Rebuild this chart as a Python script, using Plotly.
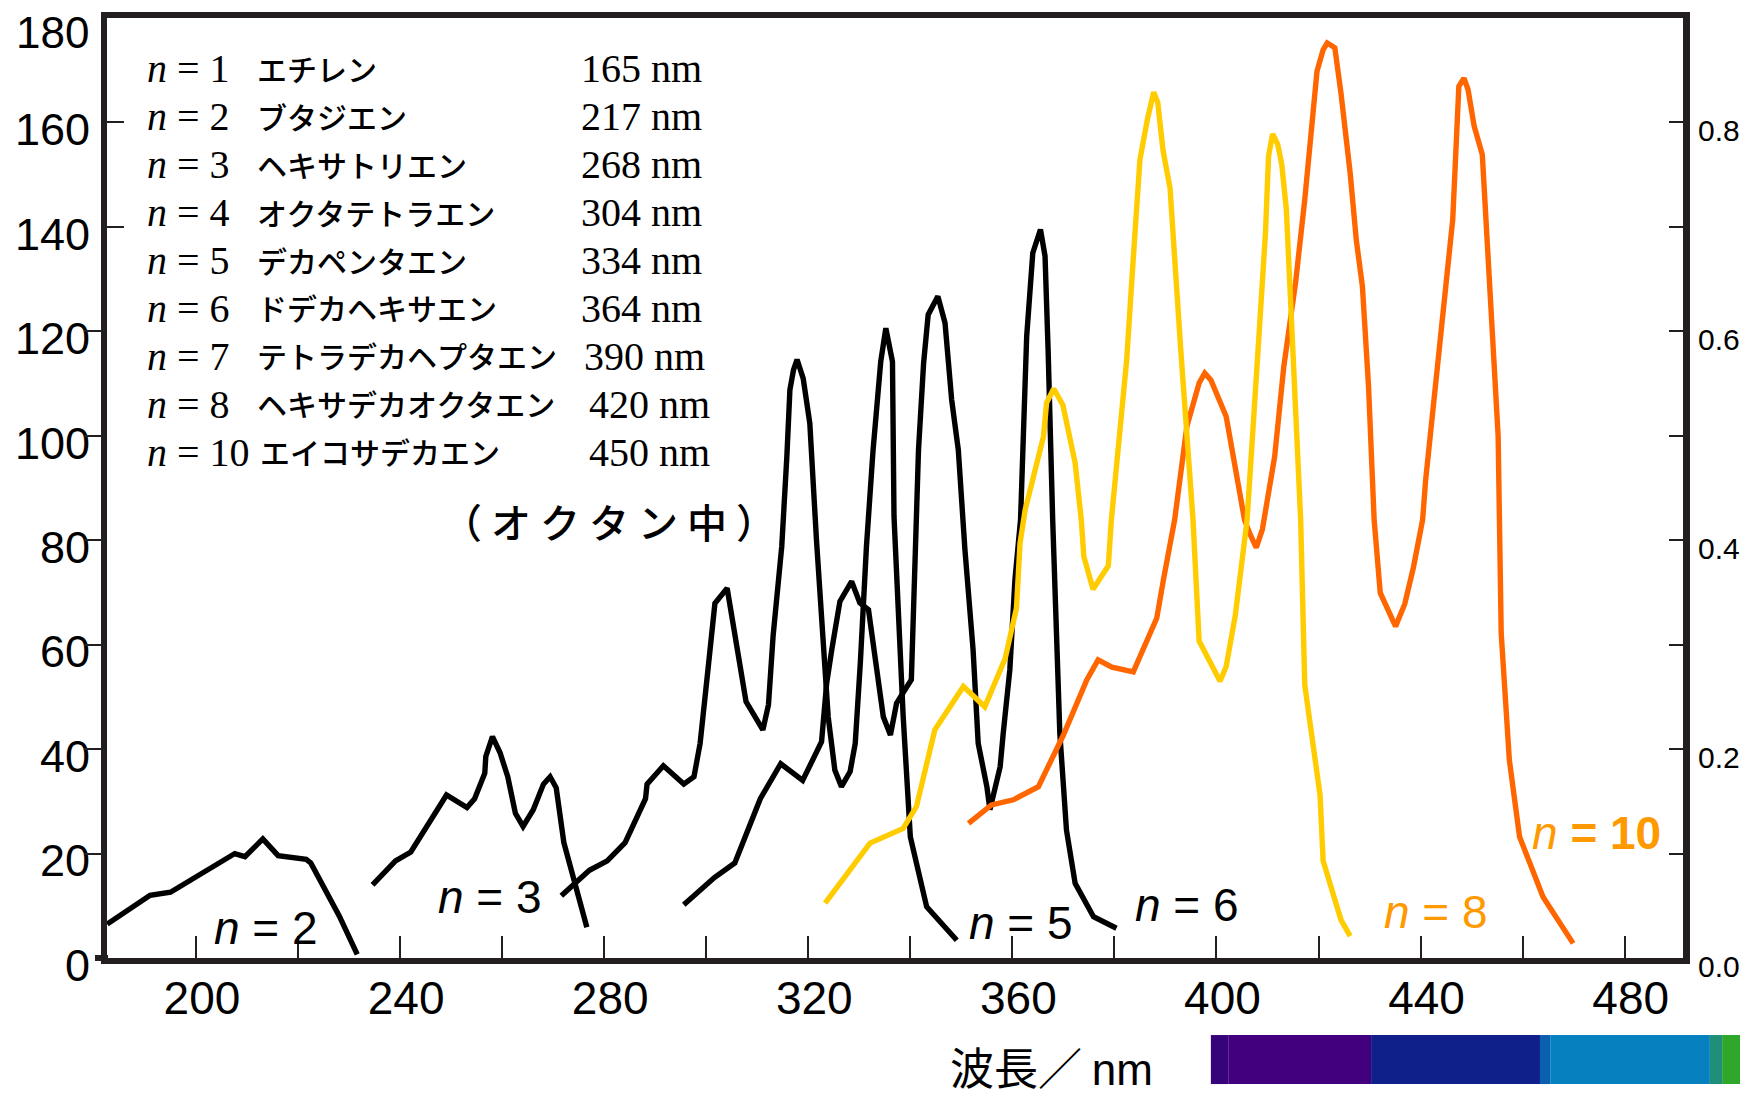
import plotly.graph_objects as go

# ---------------- data (wavelength nm, left-axis value) ----------------
n2_nm = [182.6, 191.0, 195.0, 203.6, 207.6, 209.6, 213.1, 216.1, 219.1, 221.6, 222.5, 228.1, 231.6]
n2_val = [6.5, 12.0, 12.6, 17.5, 20.0, 19.4, 22.8, 19.6, 19.3, 18.9, 18.2, 8.0, 0.7]

n3_nm = [234.6, 239.1, 242.1, 247.1, 249.1, 253.1, 254.6, 256.6, 256.8, 258.1, 259.6, 261.1,
         262.6, 264.1, 266.1, 268.1, 269.4, 270.6, 272.1, 276.6]
n3_val = [14.0, 18.6, 20.3, 28.4, 31.2, 28.8, 30.5, 35.4, 38.6, 42.4, 39.3, 34.7,
          27.7, 25.2, 28.4, 33.3, 34.7, 32.6, 22.1, 5.9]

n5_nm = [271.6, 277.1, 280.6, 284.1, 288.1, 288.4, 291.6, 295.6, 297.6, 298.8, 300.4, 301.7,
         304.1, 306.6, 307.8, 311.1, 312.2, 313.1, 314.8, 315.8, 316.4, 317.1, 317.8, 319.0,
         320.3, 321.6, 322.9, 323.9, 325.2, 326.5, 328.2, 329.2, 330.2, 331.4, 332.7, 333.9,
         334.2, 335.2, 336.5, 336.8, 337.7, 338.6, 340.0, 343.2, 349.1]
n5_val = [11.9, 16.8, 18.6, 22.1, 30.5, 33.3, 36.8, 33.3, 34.7, 41.1, 55.8, 67.9,
          70.8, 55.8, 49.1, 43.7, 48.5, 61.6, 78.8, 96.0, 108.8, 112.6, 114.6, 111.0,
          102.4, 80.1, 59.6, 46.2, 36.0, 32.8, 35.7, 41.1, 56.5, 78.8, 97.3, 108.8,
          114.2, 120.6, 114.2, 84.5, 65.4, 46.2, 23.2, 9.8, 3.4]

n6_nm = [295.6, 301.6, 305.6, 310.6, 314.6, 318.9, 322.6, 323.6, 324.6, 326.2, 328.5, 330.1,
         331.8, 333.4, 334.7, 336.1, 337.3, 340.2, 340.9, 341.6, 342.6, 343.5, 345.4, 346.8,
         348.1, 349.4, 350.7, 352.3, 353.3, 355.0, 355.6, 357.6, 358.2, 359.5, 360.5, 361.6,
         362.8, 363.4, 364.0, 365.5, 366.4, 367.0, 367.9, 369.3, 370.6, 372.3, 375.9, 380.4]
n6_val = [10.2, 15.4, 18.2, 30.5, 37.2, 34.0, 41.4, 52.6, 59.0, 68.3, 72.1, 68.0,
          66.7, 55.8, 46.2, 42.7, 48.8, 53.3, 78.2, 97.3, 113.9, 123.2, 126.7, 121.6,
          106.9, 97.3, 78.2, 59.0, 41.1, 32.8, 28.4, 36.6, 43.0, 55.2, 72.4, 83.9,
          119.0, 129.2, 135.0, 139.5, 134.4, 116.5, 83.9, 43.0, 24.5, 14.3, 7.9, 5.7]

n8_nm = [323.3, 332.1, 338.6, 341.2, 344.8, 350.4, 354.6, 358.6, 360.8, 361.5, 362.5, 366.1,
         366.7, 368.1, 369.9, 372.3, 373.5, 374.0, 375.8, 378.8, 379.4, 382.4, 383.5, 385.0,
         386.5, 387.7, 388.5, 389.5, 390.9, 391.8, 393.0, 395.4, 396.6, 400.7, 401.9, 403.7,
         406.0, 408.4, 409.6, 410.2, 411.0, 412.0, 412.8, 413.7, 414.9, 416.5, 417.3, 420.3,
         420.9, 424.4, 426.2]
n8_val = [10.5, 22.0, 24.8, 29.0, 43.7, 52.0, 48.1, 57.4, 67.0, 79.4, 85.8, 99.9,
          106.3, 109.0, 105.9, 94.8, 83.9, 76.9, 70.6, 75.1, 83.9, 114.5, 131.1, 152.9,
          160.8, 165.8, 163.8, 154.8, 147.4, 132.4, 116.5, 83.9, 60.7, 53.0, 55.8, 65.7,
          83.9, 120.3, 138.8, 153.5, 157.8, 155.8, 151.9, 143.3, 119.7, 83.9, 52.3, 31.2,
          18.6, 7.3, 4.2]

n10_nm = [351.4, 355.9, 360.2, 365.1, 370.0, 374.6, 376.8, 379.5, 383.7, 388.3, 389.6, 391.8,
          394.2, 396.6, 397.7, 398.9, 401.9, 403.7, 405.5, 406.6, 407.8, 409.0, 411.4, 413.2,
          415.5, 417.3, 418.5, 419.3, 419.7, 420.9, 421.7, 423.2, 424.4, 426.2, 427.4, 428.6,
          429.8, 430.9, 432.1, 435.1, 436.9, 438.6, 440.4, 441.0, 442.8, 444.6, 446.3, 447.5,
          448.5, 449.3, 450.5, 452.1, 452.9, 454.1, 455.2, 455.8, 457.4, 459.4, 464.0, 469.9]
n10_val = [25.8, 29.3, 30.3, 32.8, 42.7, 53.3, 57.1, 55.7, 54.8, 65.1, 72.4, 83.9,
           101.8, 110.1, 112.0, 110.7, 103.7, 94.1, 83.9, 81.1, 78.6, 82.1, 96.0, 113.3,
           129.3, 145.2, 158.6, 165.6, 169.8, 173.9, 175.2, 174.3, 165.6, 150.3, 137.5, 128.6,
           109.5, 83.9, 69.9, 63.5, 67.8, 74.8, 83.9, 91.6, 108.2, 126.1, 141.4, 166.9,
           168.5, 166.3, 159.3, 153.8, 140.1, 119.7, 100.0, 62.2, 37.9, 23.2, 11.7, 2.8]

# legend table
table_n = ["1", "2", "3", "4", "5", "6", "7", "8", "10"]
table_names = ["エチレン", "ブタジエン", "ヘキサトリエン", "オクタテトラエン", "デカペンタエン",
               "ドデカヘキサエン", "テトラデカヘプタエン", "ヘキサデカオクタエン", "エイコサデカエン"]
table_lmax = [165, 217, 268, 304, 334, 364, 390, 420, 450]

# axis ticks
x_tick_vals = list(range(200, 481, 20))
x_tick_text = [str(v) if v % 40 == 0 else "" for v in x_tick_vals]
y_tick_vals = list(range(0, 161, 20))
y_tick_text = [str(v) for v in y_tick_vals]
y_top_label = "180"
y2_tick_vals = [0.0, 0.1, 0.2, 0.3, 0.4, 0.5, 0.6, 0.7, 0.8]
y2_tick_text = ["0.0", "", "0.2", "", "0.4", "", "0.6", "", "0.8"]

# visible-spectrum strip (band edges in nm and colours)
spectrum_edges_nm = [398.9, 402.3, 430.3, 463.4, 465.4, 496.7, 499.1, 512.0]
spectrum_colors = ["#37037a", "#42007f", "#10208a", "#0a5fae", "#0780bf", "#1f8f7a", "#2ea72b"]

# ---------------- layout geometry (screen pixels; page body adds an 8px offset) ----------------
W, H = 1748, 1095
OFF = 8
SCR_L, SCR_R, SCR_T, SCR_B = 107, 1683, 18.4, 958      # plot frame on screen
L = SCR_L - OFF
T = SCR_T - OFF
R = W - (SCR_R - OFF)
B = H - (SCR_B - OFF)
X_RANGE = [182.56, 491.43]
Y_RANGE = [0, 180]
PW, PH = W - L - R, H - T - B

SANS = "Liberation Sans, Arial, sans-serif"
SERIF = "Liberation Serif, Times New Roman, serif"
CJK = "Noto Sans CJK JP"
FRAME = "#231f20"
BLACK = "#000000"
YELLOW = "#ffcc00"
ORANGE = "#ff6600"
LABEL_ORANGE = "#ff9900"


def px_x(sx):
    return (sx - OFF - L) / PW


def px_y(sy):
    return (H - B - (sy - OFF)) / PH


def nm_to_paper(nm):
    return (nm - X_RANGE[0]) / (X_RANGE[1] - X_RANGE[0])


fig = go.Figure()

curves = [
    (n2_nm, n2_val, BLACK),
    (n3_nm, n3_val, BLACK),
    (n5_nm, n5_val, BLACK),
    (n6_nm, n6_val, BLACK),
    (n10_nm, n10_val, ORANGE),
    (n8_nm, n8_val, YELLOW),
]
for xs, ys, col in curves:
    fig.add_trace(go.Scatter(x=xs, y=ys, mode="lines",
                             line=dict(color=col, width=5.4),
                             hoverinfo="skip", showlegend=False))

# dummy traces so the extra axes are drawn
for ax in ["y2", "y3", "y4"]:
    fig.add_trace(go.Scatter(x=[None], y=[None], yaxis=ax, mode="lines",
                             hoverinfo="skip", showlegend=False))

annotations = []
row_y0, row_dy = 69.0, 47.95
name_x = [255, 255, 255, 255, 255, 255, 255, 255, 258]
val_x = [579, 579, 579, 579, 579, 579, 582, 587, 587]
for i, (n, name, lm) in enumerate(zip(table_n, table_names, table_lmax)):
    yy = px_y(row_y0 + i * row_dy)
    annotations.append(dict(x=px_x(145), y=yy, xref="paper", yref="paper",
                            text=f"<i>n</i> = {n}", showarrow=False,
                            xanchor="left", yanchor="middle",
                            font=dict(family=SERIF, size=40, color="black")))
    annotations.append(dict(x=px_x(name_x[i]), y=px_y(row_y0 + i * row_dy - 1), xref="paper", yref="paper",
                            text=name, showarrow=False, xanchor="left", yanchor="middle",
                            font=dict(family=CJK, size=30, color="black", weight=500)))
    annotations.append(dict(x=px_x(val_x[i]), y=yy, xref="paper", yref="paper",
                            text=f"{lm} nm", showarrow=False, xanchor="left", yanchor="middle",
                            font=dict(family=SERIF, size=40, color="black")))

annotations.append(dict(x=px_x(440), y=px_y(521), xref="paper", yref="paper",
                        text="（ オ ク タ ン 中 ）", showarrow=False, xanchor="left", yanchor="middle",
                        font=dict(family=CJK, size=40, color="black", weight=500)))

# top label of the left axis (placed by hand so it stays inside the page)
annotations.append(dict(x=px_x(91), y=px_y(33), xref="paper", yref="paper",
                        text=y_top_label, showarrow=False, xanchor="right", yanchor="middle",
                        font=dict(family=SANS, size=44, color="black")))

curve_labels = [
    ("<i>n</i> = 2", 266, 928, "black"),
    ("<i>n</i> = 3", 490, 897, "black"),
    ("<i>n</i> = 5", 1021, 923, "black"),
    ("<i>n</i> = 6", 1187, 905, "black"),
    ("<i>n</i> = 8", 1436, 912, LABEL_ORANGE),
    ("<i>n</i> <b>= 10</b>", 1596, 833, LABEL_ORANGE),
]
for txt, cx, cy, col in curve_labels:
    annotations.append(dict(x=px_x(cx), y=px_y(cy), xref="paper", yref="paper",
                            text=txt, showarrow=False, xanchor="center", yanchor="middle",
                            font=dict(family=SANS, size=46, color=col)))

annotations.append(dict(x=px_x(948), y=px_y(1066), xref="paper", yref="paper",
                        text="波長／ <span style='font-family:Liberation Sans'>nm</span>",
                        showarrow=False, xanchor="left", yanchor="middle",
                        font=dict(family=CJK, size=44, color="black")))

shapes = []
for i, col in enumerate(spectrum_colors):
    shapes.append(dict(type="rect", xref="paper", yref="paper",
                       x0=nm_to_paper(spectrum_edges_nm[i]), x1=nm_to_paper(spectrum_edges_nm[i + 1]),
                       y0=px_y(1084), y1=px_y(1035),
                       fillcolor=col, line=dict(width=0), layer="above"))
# small overhang of the baseline to the left of the frame
shapes.append(dict(type="line", xref="paper", yref="paper",
                   x0=px_x(95), x1=px_x(108), y0=px_y(958), y1=px_y(958),
                   line=dict(color=FRAME, width=6)))

common = dict(showgrid=False, zeroline=False, automargin=False)

fig.update_layout(
    template="none",
    width=W, height=H,
    margin=dict(l=L, r=R, t=T, b=B, pad=0, autoexpand=False),
    paper_bgcolor="white", plot_bgcolor="white",
    showlegend=False,
    xaxis=dict(range=X_RANGE, showline=True, linewidth=6, linecolor=FRAME, mirror=True,
               ticks="inside", ticklen=22, tickwidth=2, tickcolor=FRAME,
               tickvals=x_tick_vals, ticktext=x_tick_text,
               tickfont=dict(family=SANS, size=46, color="black"),
               ticklabelstandoff=-5, ticklabelshift=6, ticklabeloverflow="allow", **common),
    yaxis=dict(range=Y_RANGE, showline=True, linewidth=6, linecolor=FRAME,
               ticks="", tickvals=y_tick_vals, ticktext=y_tick_text,
               tickfont=dict(family=SANS, size=45, color="black"),
               ticklabelstandoff=2, ticklabelshift=7, ticklabeloverflow="allow", **common),
    yaxis2=dict(range=[0, 0.9], overlaying="y", side="right", anchor="x",
                showline=True, linewidth=7, linecolor=FRAME,
                ticks="inside", ticklen=14, tickwidth=2, tickcolor=FRAME,
                tickvals=y2_tick_vals, ticktext=y2_tick_text,
                tickfont=dict(family=SANS, size=30, color="black"),
                ticklabelstandoff=2, ticklabelshift=8, ticklabeloverflow="allow", **common),
    yaxis3=dict(range=Y_RANGE, overlaying="y", side="left", anchor="x",
                showline=False, ticks="outside", ticklen=22, tickwidth=2, tickcolor=FRAME,
                tickvals=[20, 40, 60, 80, 100, 120], showticklabels=False, **common),
    yaxis4=dict(range=Y_RANGE, overlaying="y", side="left", anchor="x",
                showline=False, ticks="inside", ticklen=17, tickwidth=2, tickcolor=FRAME,
                tickvals=[140, 160], showticklabels=False, **common),
    annotations=annotations,
    shapes=shapes,
)

fig.write_html("out.html")
